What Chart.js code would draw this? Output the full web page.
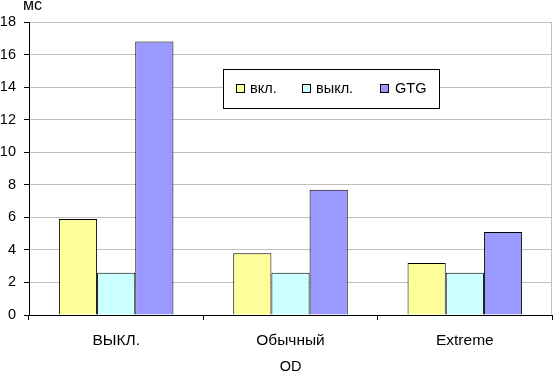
<!DOCTYPE html>
<html><head><meta charset="utf-8">
<script src="https://cdn.jsdelivr.net/npm/chart.js@4"></script>
<style>html,body{margin:0;padding:0;background:#fff}#wrap{width:553px;height:371px;position:relative}</style>
</head><body><div id="wrap"><canvas id="c" width="553" height="371"></canvas></div>
<script>
const categories = ['ВЫКЛ.', 'Обычный', 'Extreme'];
const seriesNames = ['вкл.', 'выкл.', 'GTG'];
const vkl = [5.9, 3.8, 3.2];
const vykl = [2.6, 2.6, 2.6];
const gtg = [16.8, 7.7, 5.1];
const yTickValues = [0, 2, 4, 6, 8, 10, 12, 14, 16, 18];
const yUnit = 'мс';
const xTitle = 'OD';

const colors = ['#FFFF99', '#CCFFFF', '#9999FF'];
const FONT = '"Liberation Sans", Arial, sans-serif';

const overlay = {
  id: 'overlay',
  beforeDatasetsDraw(chart) {
    const ctx = chart.ctx, a = chart.chartArea;
    ctx.save();
    ctx.strokeStyle = '#C0C0C0';
    ctx.lineWidth = 1;
    ctx.beginPath();
    ctx.moveTo(Math.round(a.right) - 0.5, a.top);
    ctx.lineTo(Math.round(a.right) - 0.5, a.bottom);
    ctx.stroke();
    ctx.restore();
  },
  afterDraw(chart) {
    const ctx = chart.ctx;
    ctx.save();
    // unit label
    ctx.font = '16px ' + FONT;
    ctx.fillStyle = '#000';
    ctx.textAlign = 'left';
    ctx.textBaseline = 'alphabetic';
    ctx.fillText(yUnit, 23, 10);
    // legend box
    const bx = 223.5, by = 69.5, bw = 216, bh = 39;
    ctx.fillStyle = '#fff';
    ctx.fillRect(bx, by, bw, bh);
    ctx.strokeStyle = '#000';
    ctx.lineWidth = 1;
    ctx.strokeRect(bx, by, bw, bh);
    const swX = [236, 302, 380];
    const txX = [250, 316, 395];
    ctx.font = '14.5px ' + FONT;
    chart.data.datasets.forEach((ds, i) => {
      ctx.fillStyle = ds.backgroundColor;
      ctx.fillRect(swX[i] + 0.5, 84.5, 8, 8);
      ctx.strokeStyle = '#000';
      ctx.strokeRect(swX[i] + 0.5, 84.5, 8, 8);
      ctx.fillStyle = '#000';
      ctx.textBaseline = 'middle';
      ctx.fillText(ds.label, txX[i], 89);
    });
    ctx.restore();
  }
};

const seriesValues = [vkl, vykl, gtg];
new Chart(document.getElementById('c'), {
  type: 'bar',
  data: {
    labels: categories,
    datasets: seriesNames.map((n, i) => ({
      label: n,
      data: seriesValues[i],
      backgroundColor: colors[i],
      borderColor: '#000',
      borderWidth: 1,
      barPercentage: 1,
      categoryPercentage: 0.657
    }))
  },
  options: {
    responsive: false,
    animation: false,
    devicePixelRatio: 1,
    layout: { padding: { top: 22, right: 1, left: 0, bottom: 0 } },
    plugins: { legend: { display: false }, tooltip: { enabled: false }, title: { display: false } },
    scales: {
      x: {
        afterFit(s) { s.height = 56; },
        grid: { drawOnChartArea: false, tickColor: '#000', tickLength: 5, offset: true },
        border: { color: '#000', width: 1 },
        ticks: { color: '#000', font: { family: FONT, size: 15.5 }, padding: 11, maxRotation: 0 },
        title: { display: true, text: xTitle, color: '#000', font: { family: FONT, size: 14.5, lineHeight: 0.8 }, padding: { top: 0, bottom: -1.5 } }
      },
      y: {
        min: 0, max: 18,
        afterFit(s) { s.width = 29; },
        afterBuildTicks(s) { s.ticks = yTickValues.map(v => ({ value: v })); },
        grid: { color: '#C0C0C0', tickColor: '#000', tickLength: 5 },
        border: { color: '#000', width: 1 },
        ticks: { color: '#000', font: { family: FONT, size: 14.5 }, padding: 8 }
      }
    }
  },
  plugins: [overlay]
});
</script></body></html>
